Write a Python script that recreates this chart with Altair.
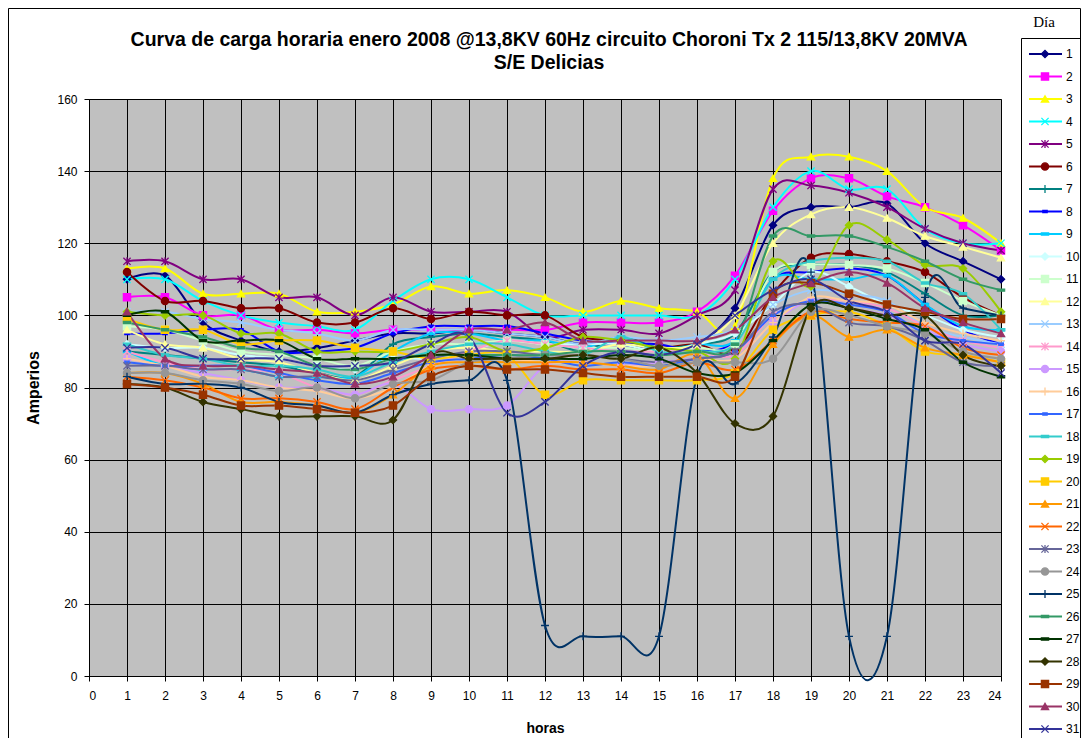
import altair as alt
import pandas as pd

hours = list(range(1, 25))
dias = [str(i) for i in range(1, 32)]
y_ticks = list(range(0, 161, 20))

colors = ["#000080", "#FF00FF", "#FFFF00", "#00FFFF", "#800080", "#800000", "#008080",
          "#0000FF", "#00CCFF", "#CCFFFF", "#CCFFCC", "#FFFF99", "#99CCFF", "#FF99CC",
          "#CC99FF", "#FFCC99", "#3366FF", "#33CCCC", "#99CC00", "#FFCC00", "#FF9900",
          "#FF6600", "#666699", "#969696", "#003366", "#339966", "#003300", "#333300",
          "#993300", "#993366", "#333399"]

X_M = "M-1,-1L1,1M-1,1L1,-1"
STAR_M = "M-1,-1L1,1M-1,1L1,-1M0,-1.1L0,1.1"
PLUS_M = "M-1.1,0L1.1,0M0,-1.1L0,1.1"
DASH_S = "M-0.6,-0.3L0.6,-0.3L0.6,0.3L-0.6,0.3Z"
DASH_L = "M-1,-0.3L1,-0.3L1,0.3L-1,0.3Z"
shapes = ["diamond", "square", "triangle-up", X_M, STAR_M, "circle", PLUS_M, DASH_S, DASH_L,
          "diamond", "square", "triangle-up", X_M, STAR_M, "circle", PLUS_M, DASH_S, DASH_L,
          "diamond", "square", "triangle-up", X_M, STAR_M, "circle", PLUS_M, DASH_L, DASH_L,
          "diamond", "square", "triangle-up", X_M]

dia_01 = [110, 111, 98, 93, 90, 91, 93, 95, 95, 96, 95, 94, 92, 92, 90, 92, 102, 125, 130, 130, 131, 120, 115, 110]
dia_02 = [105, 105, 100, 100, 96, 96, 95, 96, 96, 96, 96, 96, 98, 98, 98, 101, 111, 129, 138, 138, 133, 130, 125, 118]
dia_03 = [113, 113, 106, 106, 106, 101, 101, 103, 108, 106, 107, 105, 101, 104, 102, 101, 97, 138, 144, 144, 140, 130, 127, 120]
dia_04 = [110, 110, 104, 100, 98, 97, 96, 104, 110, 110, 105, 100, 100, 100, 100, 100, 110, 130, 140, 135, 135, 124, 120, 120]
dia_05 = [115, 115, 110, 110, 105, 105, 100, 105, 101, 101, 101, 94, 96, 96, 95, 100, 107, 135, 136, 134, 130, 124, 120, 118]
dia_06 = [112, 104, 104, 102, 102, 98, 98, 102, 99, 101, 100, 100, 94, 93, 91, 92, 90, 106, 116, 117, 115, 112, 105, 100]
dia_07 = [90, 89, 88, 87, 86, 84, 83, 92, 94, 95, 94, 93, 90, 94, 91, 92, 95, 112, 114, 114, 112, 106, 100, 100]
dia_08 = [95, 95, 96, 96, 90, 90, 91, 95, 97, 97, 97, 95, 93, 92, 92, 90, 93, 110, 112, 113, 111, 103, 96, 92]
dia_09 = [90, 86, 85, 85, 83, 83, 83, 90, 95, 95, 93, 93, 91, 94, 90, 92, 93, 110, 110, 110, 111, 103, 97, 96]
dia_10 = [92, 91, 91, 89, 88, 86, 85, 88, 88, 90, 93, 92, 92, 92, 90, 92, 95, 103, 112, 108, 103, 100, 96, 94]
dia_11 = [97, 96, 93, 90, 89, 88, 86, 90, 92, 92, 93, 92, 91, 91, 90, 91, 92, 112, 114, 114, 113, 109, 104, 100]
dia_12 = [96, 92, 91, 88, 87, 84, 82, 86, 90, 91, 90, 90, 90, 92, 91, 92, 100, 120, 128, 130, 127, 122, 119, 116]
dia_13 = [101, 101, 99, 98, 96, 95, 93, 96, 96, 96, 95, 94, 92, 94, 93, 94, 96, 103, 107, 106, 104, 97, 94, 92]
dia_14 = [90, 87, 85, 85, 84, 80, 78, 82, 86, 90, 93, 92, 91, 90, 90, 90, 89, 100, 104, 104, 102, 97, 93, 91]
dia_15 = [88, 86, 84, 82, 80, 80, 78, 81, 74, 74, 75, 86, 87, 86, 87, 88, 88, 98, 104, 102, 100, 96, 92, 90]
dia_16 = [88, 86, 83, 82, 80, 79, 77, 80, 86, 88, 88, 87, 87, 86, 86, 88, 88, 98, 105, 104, 103, 98, 95, 93]
dia_17 = [87, 86, 86, 86, 84, 82, 81, 84, 87, 88, 89, 88, 86, 87, 86, 88, 90, 100, 104, 103, 101, 95, 93, 92]
dia_18 = [92, 89, 88, 86, 86, 85, 83, 87, 90, 92, 92, 90, 89, 94, 90, 90, 92, 110, 115, 116, 115, 109, 106, 96]
dia_19 = [101, 100, 100, 95, 95, 90, 90, 90, 92, 94, 90, 91, 94, 93, 91, 90, 88, 115, 108, 125, 121, 114, 113, 101]
dia_20 = [99, 96, 96, 92, 93, 93, 91, 90, 88, 89, 89, 78, 82, 82, 82, 82, 84, 96, 100, 101, 97, 90, 89, 87]
dia_21 = [84, 84, 81, 76, 76, 75, 73, 78, 86, 87, 87, 87, 87, 86, 85, 89, 77, 92, 100, 94, 96, 91, 89, 87]
dia_22 = [83, 82, 80, 77, 77, 76, 74, 80, 85, 86, 85, 86, 85, 85, 84, 87, 85, 93, 101, 99, 98, 97, 91, 89]
dia_23 = [86, 86, 85, 85, 83, 83, 82, 85, 88, 90, 90, 89, 89, 88, 87, 88, 90, 101, 103, 98, 97, 93, 87, 86]
dia_24 = [84, 84, 82, 81, 79, 80, 77, 81, 82, 87, 88, 89, 89, 88, 86, 87, 87, 88, 101, 100, 97, 95, 90, 88]
dia_25 = [83, 81, 81, 80, 76, 75, 73, 78, 81, 82, 82, 14, 11, 11, 11, 83, 81, 94, 112, 11, 11, 105, 102, 100]
dia_26 = [98, 96, 94, 91, 90, 86, 85, 88, 89, 89, 89, 89, 90, 90, 89, 90, 92, 122, 122, 122, 119, 115, 110, 107]
dia_27 = [100, 101, 93, 93, 93, 88, 88, 88, 89, 89, 88, 88, 88, 89, 88, 84, 84, 93, 103, 102, 99, 96, 87, 83]
dia_28 = [81, 80, 76, 74, 72, 72, 72, 71, 89, 88, 88, 88, 89, 88, 91, 84, 70, 72, 102, 102, 100, 100, 89, 86]
dia_29 = [81, 80, 78, 75, 75, 74, 73, 75, 83, 86, 85, 85, 84, 83, 83, 83, 83, 106, 109, 106, 103, 101, 99, 99]
dia_30 = [101, 88, 86, 86, 85, 84, 81, 83, 89, 96, 96, 98, 93, 93, 93, 93, 96, 105, 109, 112, 109, 102, 98, 95]
dia_31 = [91, 91, 88, 88, 88, 86, 86, 87, 92, 94, 73, 76, 86, 90, 89, 92, 100, 107, 110, 104, 101, 93, 92, 84]

series_values = [dia_01, dia_02, dia_03, dia_04, dia_05, dia_06, dia_07, dia_08, dia_09, dia_10,
                 dia_11, dia_12, dia_13, dia_14, dia_15, dia_16, dia_17, dia_18, dia_19, dia_20,
                 dia_21, dia_22, dia_23, dia_24, dia_25, dia_26, dia_27, dia_28, dia_29, dia_30,
                 dia_31]

title_line_1 = "Curva de carga horaria enero 2008 @13,8KV 60Hz circuito Choroni Tx 2 115/13,8KV 20MVA"
title_line_2 = "S/E Delicias"
legend_title = "Día"

rows = []
for d, vals in zip(dias, series_values):
    for h, v in zip(hours, vals):
        rows.append({"Día": d, "hora": h, "amp": v})
df = pd.DataFrame(rows)
legend_df = pd.DataFrame({"Día": dias})
one = pd.DataFrame({"k": [0]})

FONT = "Liberation Sans"
W, H = 912, 577

color_enc = alt.Color("Día:N", scale=alt.Scale(domain=dias, range=colors), legend=None)
stroke_enc = alt.Stroke("Día:N", scale=alt.Scale(domain=dias, range=colors), legend=None)
shape_enc = alt.Shape("Día:N", scale=alt.Scale(domain=dias, range=shapes), legend=None)

x_scale = alt.Scale(domain=[0, 24], nice=False, zero=False)
y_scale = alt.Scale(domain=[0, 160], nice=False)

x_axis = alt.Axis(values=list(range(0, 25)), title="horas", format="d", labelAngle=0,
                  labelOverlap=False, tickSize=5, labelPadding=9, titlePadding=20,
                  labelFontSize=12, titleFontSize=14, titleFontWeight="bold", grid=True)
y_axis = alt.Axis(values=y_ticks, title="Amperios", format="d", tickSize=5, labelPadding=7,
                  titlePadding=15, labelFontSize=12, labelOverlap=False, titleFontSize=16,
                  titleFontWeight="bold", grid=True)
x_enc = alt.X("hora:Q", scale=x_scale, axis=x_axis)
y_enc = alt.Y("amp:Q", scale=y_scale, axis=y_axis)

lines = alt.Chart(df).mark_line(interpolate="cardinal", strokeWidth=2).encode(
    x=x_enc, y=y_enc, color=color_enc)
pts = alt.Chart(df).mark_point(filled=True, size=52, strokeWidth=1.3, opacity=1).encode(
    x=x_enc, y=y_enc, color=color_enc, stroke=stroke_enc, shape=shape_enc)

# legend: one row per day, stacked from the first entry downwards
leg_base = alt.Chart(legend_df).transform_calculate(
    ly="-45 + (toNumber(datum['Día']) - 1) * 22.5")
leg_y = alt.Y("ly:Q", scale=None, axis=None)
leg_rule = leg_base.mark_rule(strokeWidth=2).encode(
    x=alt.value(940), x2=alt.value(973), y=leg_y, color=color_enc)
leg_pts = leg_base.mark_point(filled=True, size=52, strokeWidth=1.3, opacity=1).encode(
    x=alt.value(956), y=leg_y, color=color_enc, stroke=stroke_enc, shape=shape_enc)
leg_txt = leg_base.mark_text(align="left", baseline="middle", fontSize=12,
                             font=FONT, color="black").encode(
    x=alt.value(977), y=leg_y, text="Día:N")

leg_box = alt.Chart(one).mark_rect(fillOpacity=0, stroke="black", strokeWidth=1).encode(
    x=alt.value(932.5), x2=alt.value(1100), y=alt.value(-60.5), y2=alt.value(700))
frame = alt.Chart(one).mark_rect(fillOpacity=0, stroke="black", strokeWidth=1).encode(
    x=alt.value(-80.5), x2=alt.value(991.5), y=alt.value(-90.5), y2=alt.value(700))
leg_title = alt.Chart(one).mark_text(fontSize=15, font="Liberation Serif", color="black",
                                     baseline="middle", align="center").encode(
    x=alt.value(955), y=alt.value(-77), text=alt.value(legend_title))
title1 = alt.Chart(one).mark_text(fontSize=19.5, font=FONT, fontWeight="bold", color="black",
                                  baseline="middle", align="center").encode(
    x=alt.value(460), y=alt.value(-59), text=alt.value(title_line_1))
title2 = alt.Chart(one).mark_text(fontSize=19.5, font=FONT, fontWeight="bold", color="black",
                                  baseline="middle", align="center").encode(
    x=alt.value(460), y=alt.value(-36), text=alt.value(title_line_2))

chart = alt.layer(
    lines, pts, leg_rule, leg_pts, leg_txt, frame, leg_box, leg_title, title1, title2
).properties(
    width=W, height=H,
    autosize=alt.AutoSizeParams(type="none"),
    padding={"left": 81, "top": 91, "right": 80, "bottom": 62},
    background="white",
).configure_view(
    fill="#C0C0C0", stroke="#808080", strokeWidth=1
).configure_axis(
    domainColor="black", tickColor="black", gridColor="black", gridOpacity=1, gridWidth=1,
    labelColor="black", titleColor="black", labelFont=FONT, titleFont=FONT, domainWidth=1
)

chart.save("out.html", embed_options={"renderer": "svg", "actions": False})
